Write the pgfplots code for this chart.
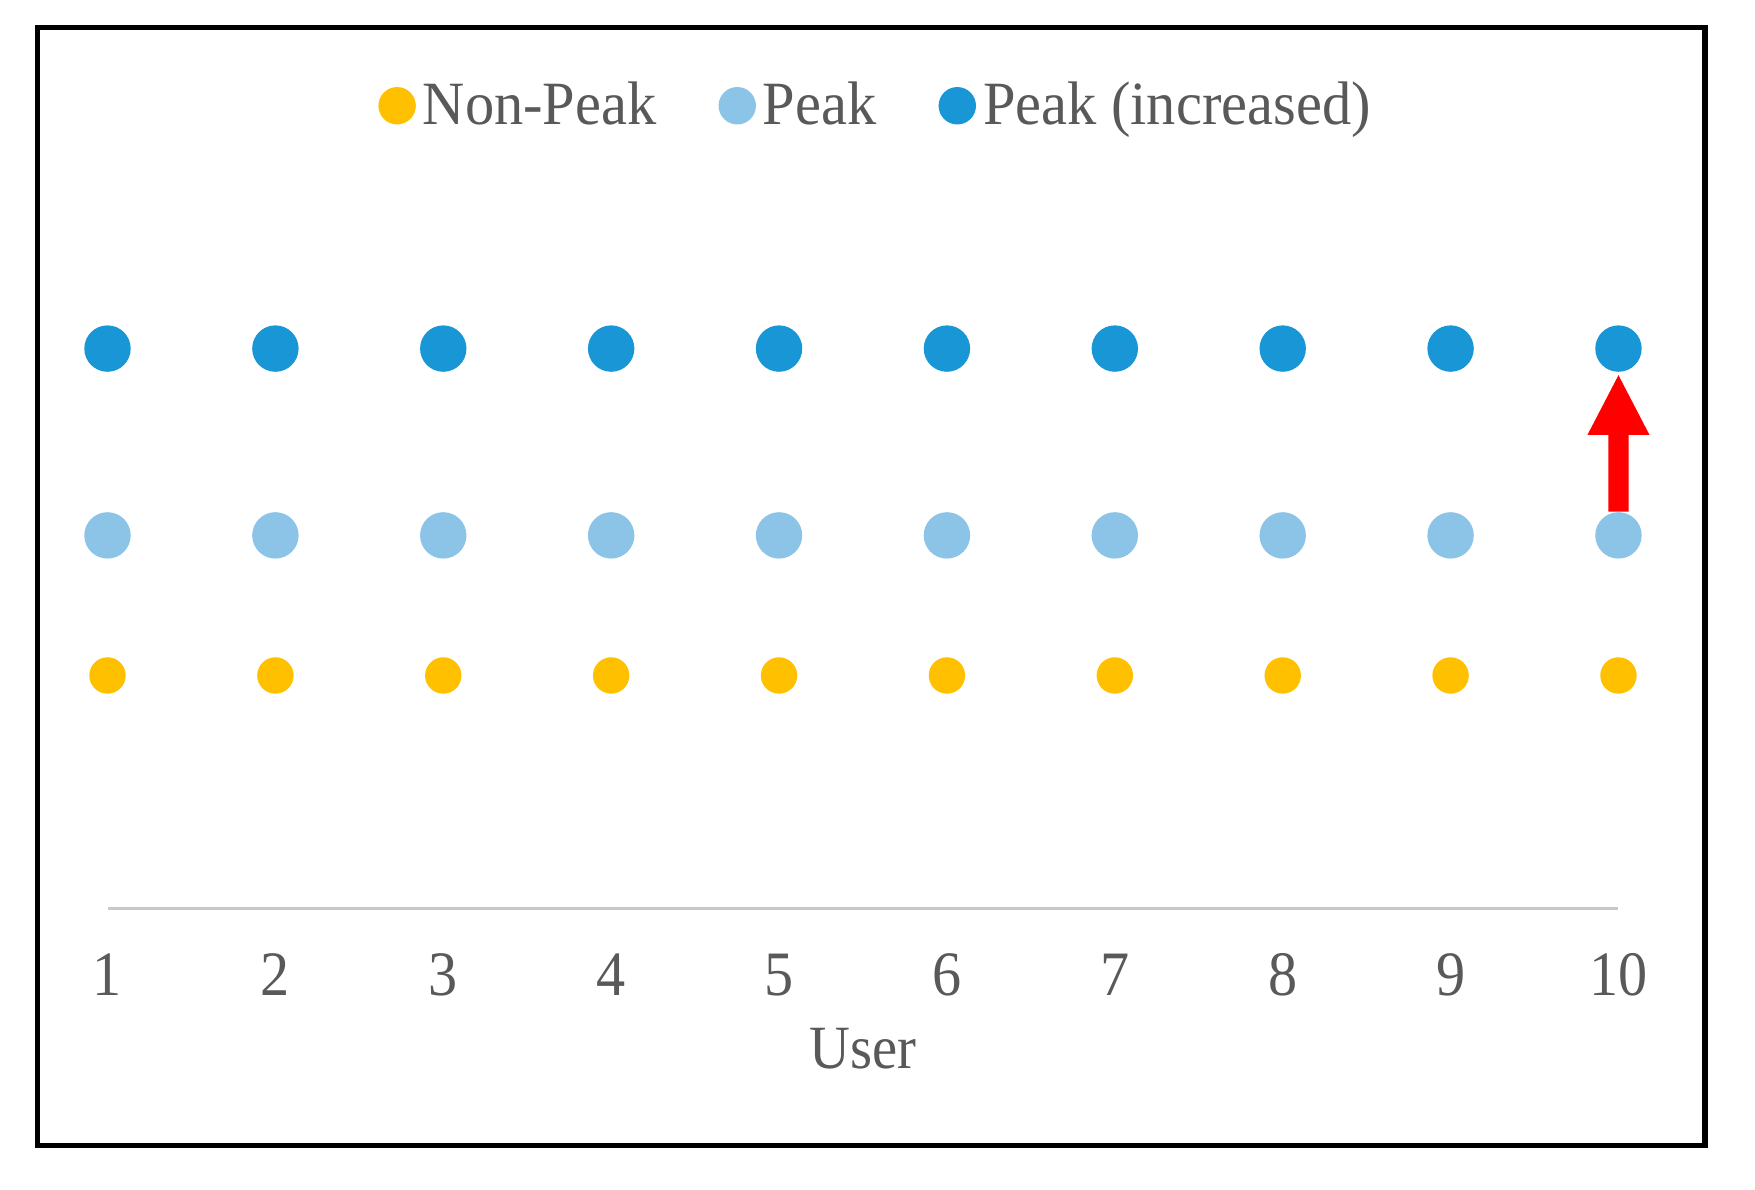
\documentclass[border=0pt]{standalone}
\usepackage{fontspec}
\setmainfont{Liberation Serif}[FakeStretch=0.92]
\newfontfamily\legfont{Liberation Serif}[FakeStretch=0.95]
\usepackage{pgfplots}
\pgfplotsset{compat=1.18}
\definecolor{npk}{RGB}{255,192,0}
\definecolor{pk}{RGB}{140,196,232}
\definecolor{pki}{RGB}{24,150,213}
\definecolor{txtg}{RGB}{89,89,89}
\definecolor{axg}{RGB}{200,200,200}
\begin{document}
\begin{tikzpicture}
\useasboundingbox (0,0) rectangle (175.5mm,119mm);
\fill[white] (0,0) rectangle (175.5mm,119mm);
\draw[line width=0.55mm] (3.75mm,116.25mm) rectangle (170.5mm,4.45mm);
\begin{axis}[
  at={(10.75mm,28.1mm)}, anchor=south west,
  scale only axis,
  width=151.1mm, height=74.72mm,
  xmin=1, xmax=10, ymin=0, ymax=16,
  clip=false,
  axis y line=none,
  axis x line=bottom,
  axis line style={-, draw=axg, line width=0.3mm},
  xtick={1,2,3,4,5,6,7,8,9,10},
  major tick length=0pt,
  ytick=\empty,
  /pgf/number format/assume math mode=true,
  xticklabel style={font=\fontsize{18}{20}\selectfont, text=txtg, anchor=base, yshift=-8.7mm},
  xlabel={User},
  xlabel style={at={(axis description cs:0.5,0)}, anchor=base, yshift=-16mm, font=\fontsize{17.5}{20}\selectfont, text=txtg},
  legend columns=3,
  legend style={draw=none, fill=none, at={(0.51,1.075)}, anchor=center,
    font=\legfont\fontsize{17.5}{20}\selectfont, text=txtg,
    /tikz/every even column/.append style={column sep=5.5mm}},
  legend image code/.code={\fill (1.8mm,0) circle (1.8mm);},
]
\addlegendimage{color=npk}
\addlegendentry{Non-Peak}
\addlegendimage{color=pk}
\addlegendentry{Peak}
\addlegendimage{color=pki}
\addlegendentry{Peak (increased)}

\addplot[only marks, mark=*, mark size=1.75mm, color=npk, mark options={draw=none, fill=npk}, forget plot]
  coordinates {(1,5) (2,5) (3,5) (4,5) (5,5) (6,5) (7,5) (8,5) (9,5) (10,5)};
\addplot[only marks, mark=*, mark size=2.25mm, color=pk, mark options={draw=none, fill=pk}, forget plot]
  coordinates {(1,8) (2,8) (3,8) (4,8) (5,8) (6,8) (7,8) (8,8) (9,8) (10,8)};
\addplot[only marks, mark=*, mark size=2.25mm, color=pki, mark options={draw=none, fill=pki}, forget plot]
  coordinates {(1,12) (2,12) (3,12) (4,12) (5,12) (6,12) (7,12) (8,12) (9,12) (10,12)};

\fill[red] (axis cs:9.94,8.51) -- (axis cs:10.06,8.51) -- (axis cs:10.06,10.15)
  -- (axis cs:10.185,10.15) -- (axis cs:10,11.43) -- (axis cs:9.815,10.15)
  -- (axis cs:9.94,10.15) -- cycle;
\end{axis}
\end{tikzpicture}
\end{document}
